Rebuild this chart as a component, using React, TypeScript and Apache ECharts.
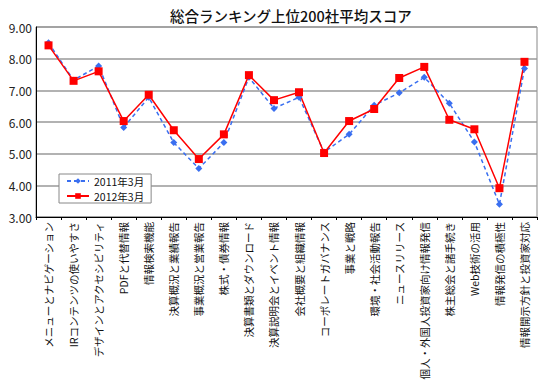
import React, { useEffect, useRef } from "react";
import * as echarts from "echarts";

const categories = [
  "メニューとナビゲーション",
  "IRコンテンツの使いやすさ",
  "デザインとアクセシビリティ",
  "PDFと代替情報",
  "情報検索機能",
  "決算概況と業績報告",
  "事業概況と営業報告",
  "株式・債券情報",
  "決算書類とダウンロード",
  "決算説明会とイベント情報",
  "会社概要と組織情報",
  "コーポレートガバナンス",
  "事業と戦略",
  "環境・社会活動報告",
  "ニュースリリース",
  "個人・外国人投資家向け情報発信",
  "株主総会と諸手続き",
  "Web技術の活用",
  "情報発信の積極性",
  "情報開示方針と投資家対応",
];

const s2011 = [8.5, 7.32, 7.77, 5.83, 6.78, 5.35, 4.53, 5.35, 7.41, 6.43, 6.78, 5.05, 5.61, 6.53, 6.92, 7.41, 6.59, 5.37, 3.4, 7.69];
const s2012 = [8.42, 7.3, 7.6, 6.03, 6.86, 5.74, 4.83, 5.61, 7.48, 6.69, 6.94, 5.02, 6.03, 6.41, 7.39, 7.74, 6.07, 5.77, 3.91, 7.9];

const seriesNames = ["2011年3月", "2012年3月"];
const title = "総合ランキング上位200社平均スコア";

export default function App() {
  const ref = useRef<HTMLDivElement>(null);
  useEffect(() => {
    document.body.style.margin = "0";
    const chart = echarts.init(ref.current!, null, { renderer: "svg" });
    const font = "'Noto Sans CJK JP', 'Noto Sans', sans-serif";
    chart.setOption({
      animation: false,
      textStyle: { fontFamily: font },
      title: {
        text: title,
        left: 165,
        top: 2,
        textStyle: { fontSize: 14.5, fontWeight: 500, color: "#111", fontFamily: font, lineHeight: 16 },
      },
      legend: {
        left: 59,
        top: 174,
        orient: "vertical",
        itemWidth: 22,
        itemHeight: 7,
        itemGap: 1,
        padding: [0, 7, 0, 7],
        borderColor: "#888",
        borderWidth: 1,
        backgroundColor: "#fff",
        textStyle: { fontSize: 10.5, color: "#111", fontFamily: font, lineHeight: 14 },
        data: seriesNames,
      },
      grid: {
        left: 36,
        right: 3,
        top: 27,
        bottom: 173,
        show: true,
        borderColor: "#888",
        borderWidth: 1,
        containLabel: false,
        outerBoundsMode: "none",
      },
      xAxis: {
        type: "category",
        data: categories,
        boundaryGap: true,
        axisLine: { lineStyle: { color: "#000", width: 1 } },
        axisTick: { show: true, alignWithLabel: false, length: 3, lineStyle: { color: "#000" } },
        axisLabel: {
          rotate: 90,
          interval: 0,
          fontSize: 10.5,
          color: "#111",
          margin: 5,
          fontFamily: font,
        },
      },
      yAxis: {
        type: "value",
        min: 3,
        max: 9,
        interval: 1,
        axisLine: { show: true, lineStyle: { color: "#000" } },
        axisTick: { show: false },
        axisLabel: {
          fontSize: 12,
          color: "#222",
          margin: 4,
          formatter: (v: number) => v.toFixed(2),
        },
        splitLine: { lineStyle: { color: "#999", width: 1.5 } },
      },
      series: [
        {
          name: seriesNames[0],
          type: "line",
          data: s2011,
          symbol: "diamond",
          symbolSize: 7,
          itemStyle: { color: "#3a6ff0" },
          lineStyle: { color: "#3a6ff0", width: 1.5, type: [4, 3] },
        },
        {
          name: seriesNames[1],
          type: "line",
          data: s2012,
          symbol: "rect",
          symbolSize: 8,
          itemStyle: { color: "#ff0000" },
          lineStyle: { color: "#ff0000", width: 1.5 },
        },
      ],
    });
    return () => chart.dispose();
  }, []);
  return <div ref={ref} style={{ width: 540, height: 390 }} />;
}
